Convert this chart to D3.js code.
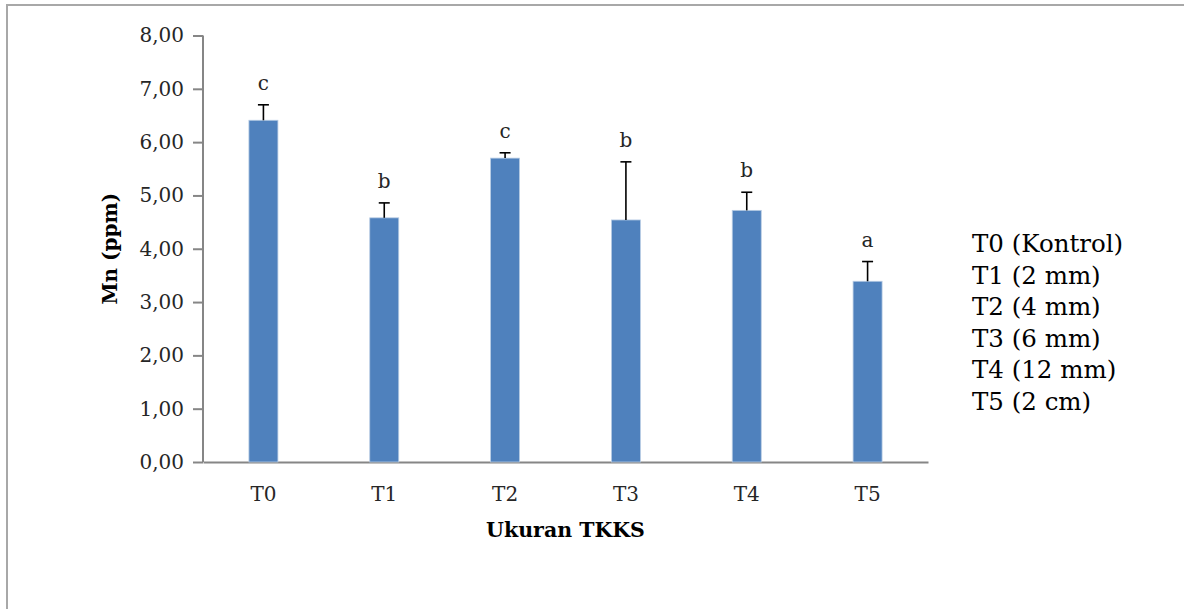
<!DOCTYPE html>
<html>
<head>
<meta charset="utf-8">
<script src="https://cdn.jsdelivr.net/npm/d3@7"></script>
<style>
  html, body { margin: 0; padding: 0; background: #fff; }
  svg { display: block; }
</style>
</head>
<body>
<div id="chart"></div>
<script>
// Data
const categories = ["T0", "T1", "T2", "T3", "T4", "T5"];
const means = [6.41, 4.58, 5.70, 4.54, 4.72, 3.39];
const errors = [0.29, 0.28, 0.10, 1.09, 0.34, 0.37];
const letters = ["c", "b", "c", "b", "b", "a"];
const legendLabels = ["T0 (Kontrol)", "T1 (2 mm)", "T2 (4 mm)", "T3 (6 mm)", "T4 (12 mm)", "T5 (2 cm)"];
const yTicks = [0, 1, 2, 3, 4, 5, 6, 7, 8];

const width = 1184, height = 609;
const margin = { top: 35.5, left: 203, right: 256, bottom: 147 };
const font = "'DejaVu Serif', 'Liberation Serif', serif";
const axisColor = "#868686";
const textColor = "#262626";

const svg = d3.select("#chart").append("svg")
  .attr("width", width)
  .attr("height", height);

// outer frame (only top and left edges are visible)
svg.append("rect")
  .attr("x", 7).attr("y", 5)
  .attr("width", width + 20).attr("height", height + 20)
  .attr("fill", "none")
  .attr("stroke", "#a8a8a8")
  .attr("stroke-width", 2);

const xScale = d3.scaleBand()
  .domain(categories)
  .range([margin.left, width - margin.right])
  .padding(0);

const yScale = d3.scaleLinear()
  .domain([0, 8])
  .range([height - margin.bottom, margin.top]);

const locale = d3.formatLocale({ decimal: ",", thousands: ".", grouping: [3], currency: ["", ""] });
const fmt = locale.format(".2f");

// y axis
const yAxis = svg.append("g")
  .attr("transform", `translate(${margin.left},0)`)
  .call(d3.axisLeft(yScale).tickValues(yTicks).tickFormat(fmt).tickSize(10).tickPadding(9));
yAxis.selectAll("text")
  .attr("font-family", font).attr("font-size", 20).attr("fill", textColor);

// x axis
const xAxis = svg.append("g")
  .attr("transform", `translate(0,${yScale(0)})`)
  .call(d3.axisBottom(xScale).tickSize(0).tickPadding(25));
xAxis.selectAll("text")
  .attr("font-family", font).attr("font-size", 20).attr("fill", textColor);

[yAxis, xAxis].forEach(a => {
  a.select(".domain").attr("stroke", axisColor).attr("stroke-width", 2);
  a.selectAll(".tick line").attr("stroke", axisColor).attr("stroke-width", 2);
});
yAxis.select(".domain").attr("d", `M0,${yScale(8)}V${yScale(0)}`);

// bars
const barW = xScale.bandwidth() * 0.24;
const cx = d => xScale(d) + xScale.bandwidth() / 2;

svg.append("g").selectAll("rect")
  .data(categories)
  .join("rect")
  .attr("x", d => cx(d) - barW / 2)
  .attr("y", (d, i) => yScale(means[i]))
  .attr("width", barW)
  .attr("height", (d, i) => yScale(0) - yScale(means[i]))
  .attr("fill", "#4f81bd")
  .attr("stroke", "#b8cce4")
  .attr("stroke-width", 0.8);

// error bars (upper only)
const err = svg.append("g").attr("stroke", "#000").attr("stroke-width", 1.6);
categories.forEach((c, i) => {
  const top = yScale(means[i] + errors[i]);
  err.append("line")
    .attr("x1", cx(c)).attr("x2", cx(c))
    .attr("y1", yScale(means[i])).attr("y2", top);
  err.append("line")
    .attr("x1", cx(c) - 5.5).attr("x2", cx(c) + 5.5)
    .attr("y1", top).attr("y2", top);
});

// significance letters
svg.append("g").selectAll("text")
  .data(categories)
  .join("text")
  .attr("x", d => cx(d))
  .attr("y", (d, i) => yScale(means[i] + errors[i]) - 15)
  .attr("text-anchor", "middle")
  .attr("font-family", font)
  .attr("font-size", 20)
  .attr("fill", textColor)
  .text((d, i) => letters[i]);

// axis titles
svg.append("text")
  .attr("x", (margin.left + width - margin.right) / 2)
  .attr("y", 537)
  .attr("text-anchor", "middle")
  .attr("font-family", font)
  .attr("font-weight", "bold")
  .attr("font-size", 20.5)
  .attr("fill", "#000")
  .text("Ukuran TKKS");

svg.append("text")
  .attr("transform", `translate(117,${(yScale(0) + yScale(8)) / 2}) rotate(-90)`)
  .attr("text-anchor", "middle")
  .attr("font-family", font)
  .attr("font-weight", "bold")
  .attr("font-size", 20)
  .attr("fill", "#000")
  .text("Mn (ppm)");

// treatment key on the right
svg.append("g").selectAll("text")
  .data(legendLabels)
  .join("text")
  .attr("x", 972)
  .attr("y", (d, i) => 252 + i * 31.5)
  .attr("font-family", font)
  .attr("font-size", 24.5)
  .attr("fill", "#000")
  .text(d => d);
</script>
</body>
</html>
